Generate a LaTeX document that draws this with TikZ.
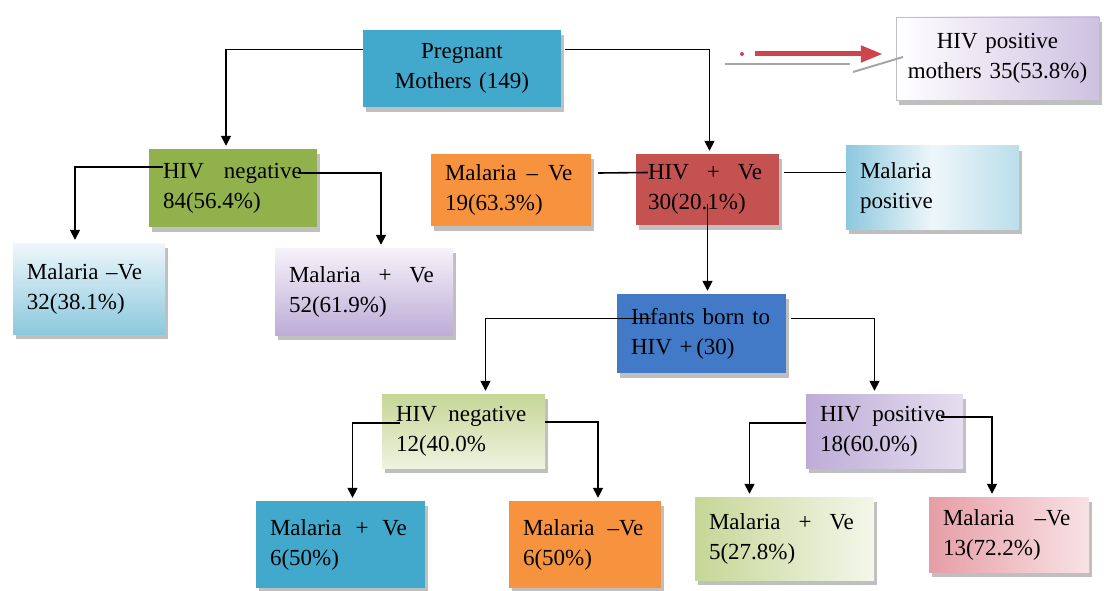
\documentclass[tikz,border=0pt]{standalone}
\usepackage{fontspec}
\setmainfont{Liberation Serif}
\usetikzlibrary{arrows.meta, positioning, calc, shadows}
\definecolor{pmteal}{RGB}{66,168,204}
\definecolor{hnolive}{RGB}{145,177,76}
\definecolor{mnorange}{RGB}{247,146,62}
\definecolor{hpred}{RGB}{196,82,80}
\definecolor{inblue}{RGB}{66,122,200}
\definecolor{lavend}{RGB}{190,172,215}
\definecolor{skyblue}{RGB}{140,200,222}
\definecolor{palegreen}{RGB}{198,214,150}
\definecolor{rosepink}{RGB}{226,140,150}
\definecolor{arrowred}{RGB}{205,70,75}
\tikzset{
  box/.style={rectangle, inner xsep=14pt, inner ysep=0pt, align=left,
    font=\fontsize{23}{30}\selectfont,
    drop shadow={shadow xshift=3pt, shadow yshift=-5pt, fill=black, opacity=0.25}},
  conn/.style={-{Triangle[width=10pt,length=10pt]}, line width=1.6pt, shorten >=3pt},
  link/.style={line width=1.6pt},
  redarrow/.style={-{Triangle[width=16pt,length=22pt]}, line width=5pt, arrowred}
}

\begin{document}
\begin{tikzpicture}[x=1pt, y=-1pt]
\useasboundingbox (0,0) rectangle (1104,591);
% Mothers
\node[box, align=center, fill=pmteal, text width=170pt, minimum height=77pt] (preg) at (462,68.5) {Pregnant\\Mothers (149)};
\node[box, align=center, draw=gray!50, left color=white, right color=lavend!75, inner xsep=6pt, text width=191pt, minimum height=83pt] (hivmoth) at (997.5,58.5) {HIV positive\\mothers 35(53.8\%)};
% HIV status of mothers
\node[box, fill=hnolive, text width=140pt, minimum height=78pt] (hivneg) at (233,188) {HIV\hspace{20pt}negative\\84(56.4\%)};
\node[box, fill=mnorange, text width=132pt, minimum height=72pt] (malnegB) at (511,190) {Malaria\hspace{10pt}--\hspace{10pt}Ve\\19(63.3\%)};
\node[box, fill=hpred, inner xsep=12pt, text width=119pt, minimum height=71pt] (hivpos) at (707.5,189.5) {HIV\hspace{18pt}+\hspace{18pt}Ve\\30(20.1\%)};
\node[box, left color=skyblue, right color=skyblue!60, middle color=white!85!skyblue, text width=145pt, minimum height=83pt] (malpos) at (932.5,187.5) {Malaria\\positive};
% Malaria among HIV negative mothers
\node[box, top color=white!85!skyblue, bottom color=skyblue, text width=124pt, minimum height=91pt] (malnegA) at (89,288.5) {Malaria\ --Ve\\32(38.1\%)};
\node[box, top color=white!85!lavend, bottom color=lavend, text width=150pt, minimum height=87pt] (malposA) at (364,291.5) {Malaria\hspace{18pt}+\hspace{18pt}Ve\\52(61.9\%)};
% Infants
\node[box, fill=inblue, text width=141pt, minimum height=79pt] (infants) at (701.5,333.5) {Infants born to\\HIV +\,(30)};
\node[box, top color=palegreen, bottom color=white!70!palegreen, text width=135pt, minimum height=74pt] (hivnegB) at (463.5,431) {HIV\enspace negative\\12(40.0\%};
\node[box, left color=lavend, right color=white!60!lavend, text width=129pt, minimum height=74pt] (hivposB) at (884.5,431) {HIV\enspace positive\\18(60.0\%)};
% Malaria among infants
\node[box, fill=pmteal, text width=141pt, minimum height=87pt] (malposB) at (340.5,544.5) {Malaria\hspace{14pt}+\hspace{14pt}Ve\\6(50\%)};
\node[box, fill=mnorange, text width=124pt, minimum height=87pt] (malnegC) at (585,544.5) {Malaria\hspace{13pt}--Ve\\6(50\%)};
\node[box, left color=palegreen, right color=white!80!palegreen, text width=151pt, minimum height=83pt] (malposC) at (784.5,538.5) {Malaria\hspace{18pt}+\hspace{18pt}Ve\\5(27.8\%)};
\node[box, left color=rosepink!85, right color=white!75!rosepink, text width=132pt, minimum height=75pt] (malnegD) at (1009,534.5) {Malaria\hspace{20pt}--Ve\\13(72.2\%)};
% Red arrow
\coordinate (arrowstart) at (755,54);
\draw[gray!70, line width=2pt] (725,64) -- (850,64);
\draw[gray!70, line width=2pt] (853,72) -- (903,57);
\fill[arrowred] (742,54) circle (2pt);
\draw[redarrow, shorten >=13pt] (arrowstart) -- (arrowstart -| hivmoth.west);
% Connectors
\draw[conn] ([yshift=19pt]preg.west) -| ([xshift=-7pt]hivneg.north);
\draw[conn] ([xshift=4pt,yshift=19pt]preg.east) -| ([xshift=2pt]hivpos.north);
\draw[conn] ([xshift=14pt,yshift=21pt]hivneg.west) -| ([xshift=-14pt]malnegA.north);
\draw[conn] ([xshift=-19pt,yshift=15pt]hivneg.east) -| ([xshift=17pt]malposA.north);
\draw[link] ([xshift=7pt,yshift=17pt]malnegB.east) -- ([xshift=12pt,yshift=17pt]hivpos.west);
\draw[link] ([xshift=5pt,yshift=17pt]hivpos.east) -- ([yshift=15pt]malpos.west);
\draw[conn] ([yshift=-15pt]hivpos.center) -- (hivpos.center |- infants.north);
\draw[conn] ([xshift=34pt,yshift=15pt]infants.west) -| ([xshift=22pt]hivnegB.north);
\draw[conn] ([xshift=5pt,yshift=15pt]infants.east) -| ([xshift=-10pt]hivposB.north);
\draw[conn] ([xshift=18pt,yshift=8pt]hivnegB.west) -| ([xshift=12pt]malposB.north);
\draw[conn] ([yshift=9pt]hivnegB.east) -| ([xshift=13pt]malnegC.north);
\draw[conn] ([yshift=8pt]hivposB.west) -| ([xshift=-35pt]malposC.north);
\draw[conn] ([xshift=-22pt,yshift=14pt]hivposB.east) -| ([xshift=-17pt]malnegD.north);
\end{tikzpicture}
\end{document}
